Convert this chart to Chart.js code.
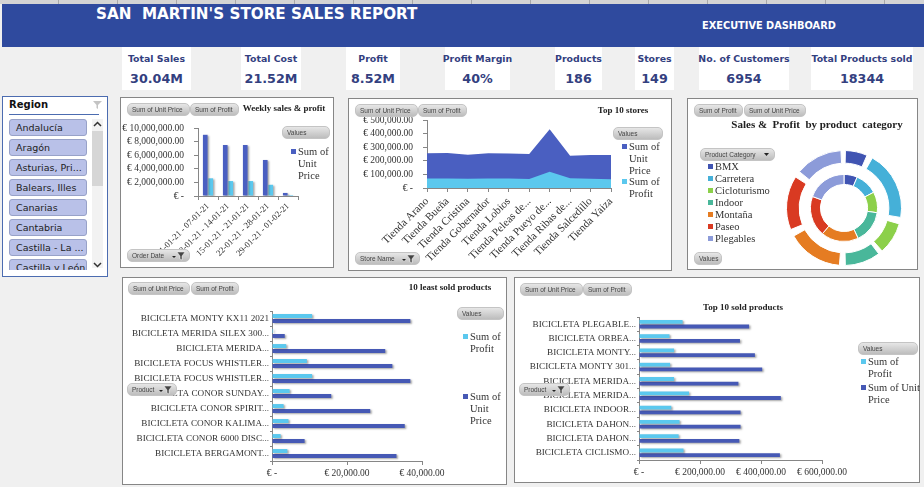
<!DOCTYPE html>
<html>
<head>
<meta charset="utf-8">
<title>San Martin's store sales report</title>
<script src="https://cdn.jsdelivr.net/npm/chart.js@4"></script>
<style>
html, body { margin: 0; padding: 0; }
body { width: 924px; height: 487px; position: relative; overflow: hidden; background: #f0f0f0; font-family: "Liberation Sans", sans-serif; }
#strip { position: absolute; left: 0; top: 0; width: 924px; height: 4px; background: repeating-linear-gradient(90deg, #d4d4d4 0 58px, #a8a8a8 58px 59px); }
#banner { position: absolute; left: 2px; top: 4px; width: 922px; height: 43px; background: #2f4a9e; color: #fff; font-weight: bold; }
#banner .main { position: absolute; left: 94px; top: 1px; font: bold 15.2px "DejaVu Sans", sans-serif; white-space: pre; }
#banner .sub { position: absolute; left: 700px; top: 16px; font: bold 9.8px "DejaVu Sans", sans-serif; }
.kpi { position: absolute; top: 47px; height: 43px; background: #fff; text-align: center; color: #33407f; font-weight: bold; font-family: "DejaVu Sans", sans-serif; white-space: nowrap; }
.kpi .label { position: absolute; left: -10px; right: -10px; top: 6px; font-size: 9.4px; }
.kpi .value { position: absolute; left: 0; right: 0; top: 24px; font-size: 12.7px; }
.panel { position: absolute; background: #fff; outline: 1px solid #868686; outline-offset: -1px; }
.panel canvas { position: absolute; left: 0; top: 0; }
.pill { position: absolute; height: 13px; line-height: 13px; box-sizing: border-box; padding-left: 4px; border-radius: 5px; border: 1px solid #c4c4c4; background: linear-gradient(#e6e6e6, #bdbdbd); font: 6.5px/11px "Liberation Sans", sans-serif; color: #444; white-space: nowrap; overflow: hidden; }
.pill svg { position: absolute; right: 3px; top: 0; }
.ttl { position: absolute; font: bold 9px "Liberation Serif", serif; color: #222; white-space: pre; transform: translate(-50%, -50%); }
.lg { position: absolute; font: 10.5px/11.8px "Liberation Serif", serif; color: #333; }
.lg i { position: absolute; left: -7px; top: 3px; width: 5px; height: 5px; }
#slicer { position: absolute; left: 2px; top: 96px; width: 106px; height: 181px; box-sizing: border-box; background: #fff; border: 1px solid #4c6cb0; overflow: hidden; }
#slicer .head { position: absolute; left: 6px; top: 2px; font: bold 10px "DejaVu Sans", sans-serif; color: #111; }
#slicer .rule { position: absolute; left: 6px; top: 17px; width: 90px; height: 1px; background: #4c6cb0; }
#slicer .item { position: absolute; left: 6px; width: 78px; height: 17px; box-sizing: border-box; padding-left: 6px; background: #b9c1e8; border: 1px solid #98a2c8; border-radius: 3px; font: 9.5px/15px "DejaVu Sans", sans-serif; color: #222; white-space: nowrap; overflow: hidden; }
#slicer .track { position: absolute; left: 89px; top: 22px; width: 11px; height: 149px; background: #f2f2f2; }
#slicer .thumb { position: absolute; left: 89px; top: 34px; width: 11px; height: 55px; background: #d6d6d6; }
#slicer svg { position: absolute; }
#slicer .clipper { position: absolute; left: 0; top: 0; width: 104px; height: 173px; overflow: hidden; }
</style>
</head>
<body>
<div id="strip"></div>
<div id="banner">
  <div class="main">SAN  MARTIN'S STORE SALES REPORT</div>
  <div class="sub">EXECUTIVE DASHBOARD</div>
</div>
<div class="kpi" style="left:122px;width:69px"><div class="label">Total Sales</div><div class="value">30.04M</div></div>
<div class="kpi" style="left:241px;width:60px"><div class="label">Total Cost</div><div class="value">21.52M</div></div>
<div class="kpi" style="left:346px;width:54px"><div class="label">Profit</div><div class="value">8.52M</div></div>
<div class="kpi" style="left:445px;width:65px"><div class="label">Profit Margin</div><div class="value">40%</div></div>
<div class="kpi" style="left:555px;width:47px"><div class="label">Products</div><div class="value">186</div></div>
<div class="kpi" style="left:635px;width:39px"><div class="label">Stores</div><div class="value">149</div></div>
<div class="kpi" style="left:699px;width:90px"><div class="label">No. of Customers</div><div class="value">6954</div></div>
<div class="kpi" style="left:811px;width:102px"><div class="label">Total Products sold</div><div class="value">18344</div></div>

<div id="slicer">
  <div class="head">Region</div><div class="rule"></div>
  <svg style="left:89px;top:3px" width="11" height="10" viewBox="0 0 11 10"><path d="M1 1h9L6 5v4L4.500 8V5z" fill="#c4c4c4"/></svg>
  <div class="clipper" id="regionList"></div>
  <div class="track"></div><div class="thumb"></div>
  <svg style="left:90px;top:24px" width="9" height="7" viewBox="0 0 9 7"><path d="M1 5l3.500-3.500L8 5" fill="none" stroke="#333" stroke-width="1.500"/></svg>
  <svg style="left:90px;top:164px" width="9" height="7" viewBox="0 0 9 7"><path d="M1 2l3.500 3.500L8 2" fill="none" stroke="#333" stroke-width="1.500"/></svg>
</div>

<div class="panel" id="weeklyPanel" style="left:120px;top:97px;width:214px;height:171px"><canvas id="weeklyChart" width="214" height="171"></canvas>
  <div class="ttl" style="left:164px;top:11px">Weekly sales &amp; profit</div>
</div>
<div class="panel" id="storesPanel" style="left:348px;top:98px;width:324px;height:173px"><canvas id="storesChart" width="324" height="173"></canvas>
  <div class="ttl" style="left:275px;top:12px">Top 10 stores</div>
</div>
<div class="panel" id="categoryPanel" style="left:687px;top:98px;width:231px;height:172px"><canvas id="categoryChart" width="231" height="172"></canvas>
  <div class="ttl" style="left:130px;top:26px;font-size:11px">Sales &amp;  Profit  by product  category</div>
</div>
<div class="panel" id="leastPanel" style="left:122px;top:277px;width:385px;height:208px"><canvas id="leastChart" width="385" height="208"></canvas>
  <div class="ttl" style="left:328px;top:10px">10 least sold products</div>
</div>
<div class="panel" id="topPanel" style="left:514px;top:277px;width:406px;height:206px"><canvas id="topChart" width="406" height="206"></canvas>
  <div class="ttl" style="left:229px;top:30px">Top 10 sold products</div>
</div>

<script>
const regions = ['Andalucía', 'Aragón', 'Asturias, Pri...', 'Balears, Illes', 'Canarias', 'Cantabria', 'Castilla - La ...', 'Castilla y León'];

const weekLabels = ['01-01-21 - 07-01-21', '08-01-21 - 14-01-21', '15-01-21 - 21-01-21', '22-01-21 - 28-01-21', '29-01-21 - 01-02-21'];
const weekUnitPrice = [9000000, 7500000, 7500000, 5300000, 450000];
const weekProfit = [2600000, 2200000, 2200000, 1650000, 150000];

const storeLabels = ['Tienda Arano', 'Tienda Bueña', 'Tienda Cristina', 'Tienda Gobernador', 'Tienda Lobios', 'Tienda Peleas de...', 'Tienda Pueyo de...', 'Tienda Ribas de...', 'Tienda Salcedillo', 'Tienda Yaiza'];
const storeUnitPrice = [256000, 258000, 245000, 255000, 254000, 250000, 432000, 238000, 242000, 242000];
const storeProfit = [70000, 70000, 68000, 70000, 70000, 67000, 120000, 72000, 68000, 65000];

const categoryLabels = ['BMX', 'Carretera', 'Cicloturismo', 'Indoor', 'Montaña', 'Paseo', 'Plegables'];
const categoryOuter = [6.5, 20.5, 9.5, 10.5, 16.5, 16, 14];
const categoryInner = [6.4, 10.8, 10, 15.8, 18, 19.4, 19.4];
const categoryColors = ['#4054b2', '#45b0d8', '#8cd04a', '#49b79a', '#e57c22', '#d93a22', '#8c9bd9'];

const leastLabels = ['BICICLETA MONTY KX11 2021', 'BICICLETA MERIDA SILEX 300...', 'BICICLETA MERIDA...', 'BICICLETA FOCUS WHISTLER...', 'BICICLETA FOCUS WHISTLER...', 'BICICLETA CONOR SUNDAY...', 'BICICLETA CONOR SPIRIT...', 'BICICLETA CONOR KALIMA...', 'BICICLETA CONOR 6000 DISC...', 'BICICLETA BERGAMONT...'];
const leastUnitPrice = [36900, 3400, 30200, 32100, 36900, 15800, 26200, 35400, 8700, 33200];
const leastProfit = [10700, 300, 3800, 9300, 10700, 4700, 3100, 4400, 2300, 4100];

const topLabels = ['BICICLETA PLEGABLE...', 'BICICLETA ORBEA...', 'BICICLETA MONTY...', 'BICICLETA MONTY 301...', 'BICICLETA MERIDA...', 'BICICLETA MERIDA...', 'BICICLETA INDOOR...', 'BICICLETA DAHON...', 'BICICLETA DAHON...', 'BICICLETA CICLISMO...'];
const topUnitPrice = [361000, 331000, 380000, 404000, 326000, 465000, 333000, 333000, 329000, 462000];
const topProfit = [143000, 100000, 115000, 102000, 115000, 164000, 106000, 133000, 130000, 146000];

const UNIT_NAME = 'Sum of Unit Price';
const PROFIT_NAME = 'Sum of Profit';
const UNIT_COLOR = '#4a5fc1';
const PROFIT_COLOR = '#5bc8ee';
const AXIS_COLOR = '#868686';
const SERIF = '"Liberation Serif", serif';

Chart.defaults.animation = false;
Chart.defaults.responsive = false;
Chart.defaults.font.family = SERIF;
Chart.defaults.color = '#333';
Chart.defaults.plugins.legend.display = false;
Chart.defaults.plugins.tooltip.enabled = false;

// small drop shadow behind the bars, as in the excel charts
const barShadow = {
    id: 'barShadow',
    beforeDatasetsDraw(chart) {
        const ctx = chart.ctx;
        ctx.save();
        ctx.shadowColor = 'rgba(0,0,0,0.35)';
        ctx.shadowBlur = 2;
        ctx.shadowOffsetX = 1.5;
        ctx.shadowOffsetY = 1;
    },
    afterDatasetsDraw(chart) {
        chart.ctx.restore();
    },
};

const euro = (value) => {
    if (value === 0) return '€ -';
    return '€ ' + value.toLocaleString('en-US', { minimumFractionDigits: 2 });
};

// the plot box is given in panel pixels, so the axes line up with the reference
const plotLayout = (canvas, box) => ({
    padding: { left: 0, bottom: 0, top: box.top, right: canvas.width - box.right },
});
const fixWidth = (w) => (scale) => { scale.width = w; };
const fixHeight = (h) => (scale) => { scale.height = h; };

const axisGrid = { drawOnChartArea: false, color: AXIS_COLOR, tickLength: 4 };
const axisBorder = { color: AXIS_COLOR };

const columnChart = () => {
    const canvas = document.getElementById('weeklyChart');
    const box = { left: 78, top: 31, right: 178, bottom: 99 };
    return new Chart(canvas, {
        type: 'bar',
        plugins: [barShadow],
        data: {
            labels: weekLabels,
            datasets: [
                { label: UNIT_NAME, data: weekUnitPrice, backgroundColor: UNIT_COLOR, categoryPercentage: 0.55, barPercentage: 0.85 },
                { label: PROFIT_NAME, data: weekProfit, backgroundColor: PROFIT_COLOR, categoryPercentage: 0.55, barPercentage: 0.85 },
            ],
        },
        options: {
            layout: plotLayout(canvas, box),
            scales: {
                x: { grid: axisGrid, border: axisBorder, afterFit: fixHeight(canvas.height - box.bottom),
                    ticks: { autoSkip: false, minRotation: 45, maxRotation: 45, padding: 1, font: { size: 8.7 } } },
                y: { min: 0, max: 10000000, grid: axisGrid, border: axisBorder, afterFit: fixWidth(box.left),
                    ticks: { stepSize: 2000000, autoSkip: false, callback: euro, padding: 10, font: { size: 9.5 } } },
            },
        },
    });
};

const areaChart = () => {
    const canvas = document.getElementById('storesChart');
    const box = { left: 79, top: 22, right: 263, bottom: 90 };
    return new Chart(canvas, {
        type: 'line',
        data: {
            labels: storeLabels,
            datasets: [
                { label: UNIT_NAME, data: storeUnitPrice, order: 2, fill: 'origin', tension: 0, pointRadius: 0, borderWidth: 0, backgroundColor: UNIT_COLOR },
                { label: PROFIT_NAME, data: storeProfit, order: 1, fill: 'origin', tension: 0, pointRadius: 0, borderWidth: 0, backgroundColor: PROFIT_COLOR },
            ],
        },
        options: {
            layout: plotLayout(canvas, box),
            scales: {
                x: { offset: false, grid: axisGrid, border: axisBorder, afterFit: fixHeight(canvas.height - box.bottom),
                    ticks: { autoSkip: false, minRotation: 45, maxRotation: 45, padding: 3, font: { size: 11 } } },
                y: { min: 0, max: 500000, grid: axisGrid, border: axisBorder, afterFit: fixWidth(box.left),
                    ticks: { stepSize: 100000, autoSkip: false, callback: euro, padding: 10, font: { size: 9.5 } } },
            },
        },
    });
};

const ringChart = () => {
    const canvas = document.getElementById('categoryChart');
    return new Chart(canvas, {
        type: 'doughnut',
        data: {
            labels: categoryLabels,
            datasets: [
                { label: PROFIT_NAME, data: categoryOuter, backgroundColor: categoryColors, borderColor: '#fff', borderWidth: 1, spacing: 11, weight: 14 },
                { label: 'spacer', data: [1], backgroundColor: 'rgba(0,0,0,0)', borderWidth: 0, weight: 10 },
                { label: UNIT_NAME, data: categoryInner, backgroundColor: categoryColors, borderColor: '#fff', borderWidth: 1, weight: 10 },
            ],
        },
        options: {
            cutout: '41%',
            layout: { padding: { left: 99, right: 16, top: 52, bottom: 4 } },
        },
    });
};

const sideways = (canvasId, labels, unitValues, profitValues, box, axisMax, step) => {
    const canvas = document.getElementById(canvasId);
    return new Chart(canvas, {
        type: 'bar',
        plugins: [barShadow],
        data: {
            labels,
            datasets: [
                { label: PROFIT_NAME, data: profitValues, backgroundColor: PROFIT_COLOR, categoryPercentage: 0.66, barPercentage: 0.8 },
                { label: UNIT_NAME, data: unitValues, backgroundColor: '#4659b5', categoryPercentage: 0.66, barPercentage: 0.8 },
            ],
        },
        options: {
            indexAxis: 'y',
            layout: plotLayout(canvas, box),
            scales: {
                x: { min: 0, max: axisMax, grid: axisGrid, border: axisBorder, afterFit: fixHeight(canvas.height - box.bottom),
                    ticks: { stepSize: step, maxRotation: 0, callback: euro, padding: 3, font: { size: 9.5 } } },
                y: { grid: { ...axisGrid, tickLength: 2 }, border: axisBorder, afterFit: fixWidth(box.left),
                    ticks: { autoSkip: false, padding: 1, font: { size: 9.2 } } },
            },
        },
    });
};

const addPill = (panelId, text, x, y, w, hasFilter, hasArrow) => {
    const pill = document.createElement('div');
    pill.className = 'pill';
    pill.style.cssText = `left:${x}px;top:${y}px;width:${w}px`;
    pill.textContent = text;
    if (hasFilter) {
        pill.insertAdjacentHTML('beforeend', '<svg width="14" height="11" viewBox="0 0 14 11"><path d="M0 6h4L2 8z" fill="#222"/><path d="M5 2h8L10 6v4L8 9V6z" fill="#444" stroke="#fff" stroke-width=".5"/></svg>');
    }
    if (hasArrow) {
        pill.insertAdjacentHTML('beforeend', '<svg width="8" height="11" viewBox="0 0 8 11"><path d="M1 4h5L3.500 7z" fill="#222"/></svg>');
    }
    document.getElementById(panelId).appendChild(pill);
};

const addLegend = (panelId, text, color, x, y, w) => {
    const item = document.createElement('div');
    item.className = 'lg';
    item.style.cssText = `left:${x}px;top:${y}px;width:${w}px`;
    item.innerHTML = `<i style="background:${color}"></i>${text}`;
    document.getElementById(panelId).appendChild(item);
};

regions.forEach((region, i) => {
    const item = document.createElement('div');
    item.className = 'item';
    item.style.top = `${22 + i * 20}px`;
    item.textContent = region;
    document.getElementById('regionList').appendChild(item);
});

columnChart();
areaChart();
ringChart();
sideways('leastChart', leastLabels, leastUnitPrice, leastProfit, { left: 150, top: 34, right: 300, bottom: 184 }, 40000, 20000);
sideways('topChart', topLabels, topUnitPrice, topProfit, { left: 125, top: 40, right: 308, bottom: 183 }, 600000, 200000);

addPill('weeklyPanel', UNIT_NAME, 7, 6, 63);
addPill('weeklyPanel', PROFIT_NAME, 70, 6, 49);
addPill('weeklyPanel', 'Values', 162, 29, 48);
addPill('weeklyPanel', 'Order Date', 7, 152, 63, true);
addLegend('weeklyPanel', UNIT_NAME, UNIT_COLOR, 178, 49, 34);

addPill('storesPanel', UNIT_NAME, 7, 6, 63);
addPill('storesPanel', PROFIT_NAME, 70, 6, 49);
addPill('storesPanel', 'Values', 265, 29, 50);
addPill('storesPanel', 'Store Name', 7, 154, 65, true);
addLegend('storesPanel', UNIT_NAME, UNIT_COLOR, 281, 43, 34);
addLegend('storesPanel', PROFIT_NAME, PROFIT_COLOR, 281, 78, 34);

addPill('categoryPanel', PROFIT_NAME, 7, 6, 49);
addPill('categoryPanel', UNIT_NAME, 57, 6, 62);
addPill('categoryPanel', 'Product Category', 13, 50, 75, false, true);
addPill('categoryPanel', 'Values', 7, 154, 28);
categoryLabels.forEach((name, i) => addLegend('categoryPanel', name, categoryColors[i], 28, 63 + i * 12, 70));

addPill('leastPanel', UNIT_NAME, 6, 5, 62);
addPill('leastPanel', PROFIT_NAME, 69, 5, 48);
addPill('leastPanel', 'Values', 335, 30, 47);
addPill('leastPanel', 'Product', 5, 106, 50, true);
addLegend('leastPanel', PROFIT_NAME, PROFIT_COLOR, 348, 54, 34);
addLegend('leastPanel', UNIT_NAME, '#4659b5', 348, 114, 34);

addPill('topPanel', UNIT_NAME, 6, 6, 63);
addPill('topPanel', PROFIT_NAME, 69, 6, 49);
addPill('topPanel', 'Values', 344, 65, 60);
addPill('topPanel', 'Product', 5, 106, 51, true);
addLegend('topPanel', PROFIT_NAME, PROFIT_COLOR, 354, 79, 42);
addLegend('topPanel', UNIT_NAME, '#4659b5', 354, 105, 56);
</script>
</body>
</html>
